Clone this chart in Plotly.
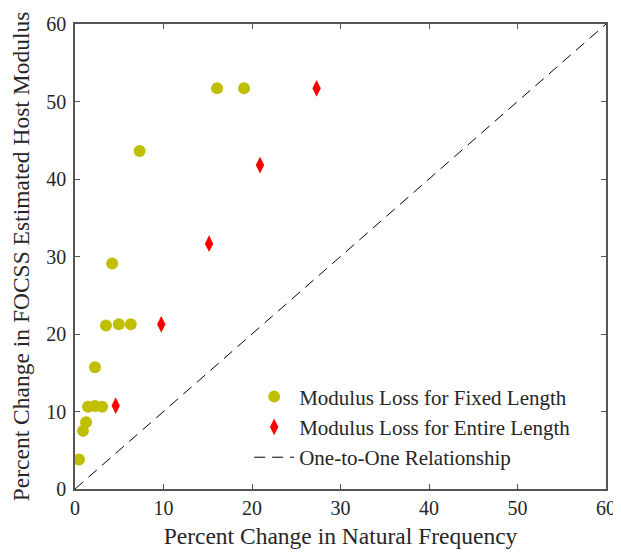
import plotly.graph_objects as go

fixed_x = [0.45, 0.9, 1.25, 1.47, 2.26, 3.06, 2.26, 3.5, 4.95, 6.3, 4.2, 7.3, 16.05, 19.1]
fixed_y = [3.8, 7.5, 8.6, 10.6, 10.7, 10.6, 15.7, 21.1, 21.25, 21.25, 29.1, 43.6, 51.7, 51.7]
entire_x = [4.6, 9.75, 15.15, 20.9, 27.3]
entire_y = [10.75, 21.25, 31.65, 41.8, 51.7]
line_x = [0, 60]
line_y = [0, 60]
ticks = [0, 10, 20, 30, 40, 50, 60]

font_family = "Liberation Serif"
txt = "#262626"

fig = go.Figure()
fig.add_trace(go.Scatter(x=fixed_x, y=fixed_y, mode="markers",
                         name="Modulus Loss for Fixed Length",
                         marker=dict(symbol="circle", size=12, color="#BFBF00")))
fig.add_trace(go.Scatter(x=entire_x, y=entire_y, mode="markers",
                         name="Modulus Loss for Entire Length",
                         marker=dict(symbol="diamond-tall", size=12, color="#FF0000")))
fig.add_trace(go.Scatter(x=line_x, y=line_y, mode="lines",
                         name="One-to-One Relationship",
                         line=dict(color="black", width=1, dash="11px,7px")))

axis_common = dict(range=[0, 60], tickvals=ticks, showgrid=False, zeroline=False,
                   showline=True, linecolor="#555555", linewidth=1.5, mirror="ticks",
                   ticks="inside", ticklen=5, tickcolor="#555555", automargin=False,
                   tickfont=dict(family=font_family, size=20, color=txt))

# page body has an 8px margin, so the figure is sized to fit the visible window
fig.update_layout(
    width=613, height=550,
    margin=dict(l=67, r=15, t=16, b=69),
    plot_bgcolor="white", paper_bgcolor="white",
    font=dict(family=font_family, color=txt),
    xaxis=dict(**axis_common,
               title=dict(text="Percent Change in Natural Frequency",
                          font=dict(family=font_family, size=23.5, color=txt), standoff=10)),
    yaxis=dict(**axis_common, ticklabelstandoff=3,
               title=dict(text="Percent Change in FOCSS Estimated Host Modulus",
                          font=dict(family=font_family, size=23.5, color=txt), standoff=12)),
    legend=dict(x=0.328, y=0.242, xanchor="left", yanchor="top",
                bgcolor="rgba(255,255,255,0)", borderwidth=0,
                font=dict(family=font_family, size=21, color=txt),
                itemwidth=40, tracegroupgap=0),
    showlegend=True,
)

fig.write_html("out.html")
